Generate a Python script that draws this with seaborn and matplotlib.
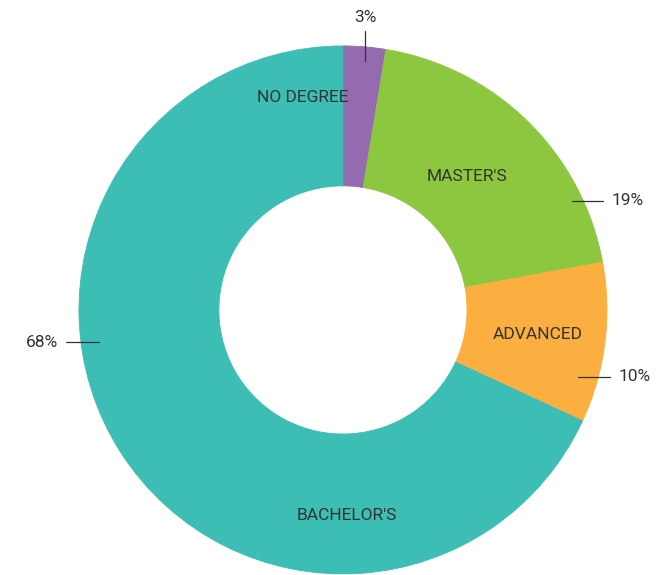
import matplotlib
matplotlib.use("Agg")
import matplotlib.pyplot as plt
import seaborn as sns
import numpy as np

# ---- data ----
categories = ["NO DEGREE", "MASTER'S", "ADVANCED", "BACHELOR'S"]
values = [2.6, 19.5, 9.8, 68.1]
pct_labels = ["3%", "19%", "10%", "68%"]
colors = ["#956BAF", "#8DC63F", "#FBAF41", "#3DBEB4"]

sns.set_theme(style="white")
plt.rcParams['font.family'] = ['Roboto', 'DejaVu Sans']

fig = plt.figure(figsize=(6.59, 5.75), dpi=100)
ax = fig.add_axes([0, 0, 1, 1])

ax.pie(values, colors=sns.color_palette(colors), startangle=90, counterclock=False,
       radius=1.0, wedgeprops=dict(width=0.53, linewidth=0.6, antialiased=True))
for w, c in zip(ax.patches, colors):
    w.set_edgecolor(c)

ax.set_xlim(-1.299, 1.197)
ax.set_ylim(-1.004, 1.174)
ax.set_aspect('equal')
ax.axis('off')

txt_color = "#333333"
fs = 12.5
fw = 'normal'

# category labels: (angle deg, radius) layout
cat_layout = [(100.7, 0.817), (47.0, 0.69), (-7.3, 0.745), (-88.9, 0.78)]
for name, (a, r) in zip(categories, cat_layout):
    t = np.deg2rad(a)
    ax.text(r * np.cos(t), r * np.sin(t), name, ha='center', va='center',
            fontsize=fs, color=txt_color, fontweight=fw)

# percentage leaders: angle on outer edge, orientation, inner/outer extents
pct_layout = [
    (85.2, 'v', -0.053, 0.061),
    (24.4, 'h', -0.042, 0.076),
    (-14.7, 'h', -0.076, 0.045),
    (187.0, 'h', -0.068, 0.057),
]
for lab, (a, orient, d_in, d_out) in zip(pct_labels, pct_layout):
    t = np.deg2rad(a)
    ex, ey = np.cos(t), np.sin(t)
    if orient == 'v':
        ax.plot([ex, ex], [ey + d_in, ey + d_out], color="#333333", lw=0.9)
        ax.text(ex, ey + d_out + 0.05, lab, ha='center', va='center',
                fontsize=fs, color=txt_color, fontweight=fw)
    else:
        s = 1 if ex > 0 else -1
        ax.plot([ex + s * d_in, ex + s * d_out], [ey, ey], color="#333333", lw=0.9)
        ax.text(ex + s * (d_out + 0.03), ey, lab, ha='left' if s > 0 else 'right',
                va='center', fontsize=fs, color=txt_color, fontweight=fw)

fig.savefig("out.png", dpi=100)
